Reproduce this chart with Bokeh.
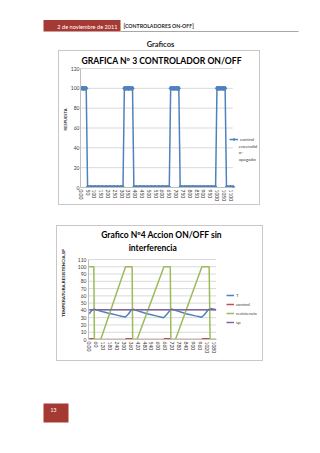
from bokeh.plotting import figure
from bokeh.models import (Range1d, Legend, LegendItem, FixedTicker, Plot,
                          ColumnDataSource, Quad, Segment, Text)
from bokeh.layouts import column
from bokeh.embed import file_html
from bokeh.resources import INLINE
from bokeh.core.properties import value

FONT = "Lato"
RED = "#a53a35"
GRID = "#d9d9d9"
AXIS = "#bfbfbf"
TXT = "#404040"

# ---------------- page texts ----------------
header_date = "2 de noviembre de 2011"
header_title = "[CONTROLADORES ON-OFF]"
section_title = "Graficos"
page_number = "13"

# ---------------- chart 1 data ----------------
c1_title = "GRAFICA Nº 3 CONTROLADOR ON/OFF"
c1_ylabel = "RESPUESTA"
c1_legend = ["control", "encendid", "o-", "apagado"]
c1_t = list(range(0, 1130, 10))
c1_v = [
    100, 100, 100, 100, 100,
    0, 0, 0, 0, 0, 0, 0, 0, 0, 0, 0, 0, 0, 0, 0, 0, 0, 0, 0, 0, 0, 0, 0, 0, 0, 0, 0,
    100, 100, 100, 100, 100, 100, 100,
    0, 0, 0, 0, 0, 0, 0, 0, 0, 0, 0, 0, 0, 0, 0, 0, 0, 0, 0, 0, 0, 0, 0, 0, 0, 0, 0,
    100, 100, 100, 100, 100, 100, 100,
    0, 0, 0, 0, 0, 0, 0, 0, 0, 0, 0, 0, 0, 0, 0, 0, 0, 0, 0, 0, 0, 0, 0, 0, 0, 0, 0,
    100, 100, 100, 100, 100, 100, 100,
    0, 0, 0, 0, 0, 0,
]
c1_xticks = [0, 50, 100, 150, 200, 250, 300, 350, 400, 450, 500, 550,
             600, 650, 700, 750, 800, 850, 900, 950, 1000, 1050, 1100]
c1_yticks = [0, 20, 40, 60, 80, 100, 120]

# ---------------- chart 2 data ----------------
c2_title_1 = "Grafico Nº4 Accion ON/OFF sin"
c2_title_2 = "interferencia"
c2_ylabel = "TEMPERATURA,RESISTENCIA,SP"
c2_xticks = [0, 60, 120, 180, 240, 300, 360, 420, 480, 540, 600, 660,
             720, 780, 840, 900, 960, 1020, 1080]
c2_yticks = [0, 10, 20, 30, 40, 50, 60, 70, 80, 90, 100, 110]

T_t = [0, 20, 40, 80, 120, 160, 200, 240, 280, 314, 340, 360, 375,
       420, 460, 500, 540, 580, 620, 645, 670, 695, 712,
       760, 800, 840, 880, 920, 960, 975, 1000, 1025, 1045, 1075, 1100]
T_v = [35.5, 39.5, 42, 40, 38.2, 36.5, 35, 33.5, 32, 31, 35, 39.5, 42,
       39.5, 37.5, 35.5, 34, 32.5, 31, 30, 34, 39, 42,
       39.5, 37.5, 35.5, 34, 32.5, 31.2, 30.5, 34.5, 39.5, 42.5, 42, 41]

ctrl_t = [0, 40, 45, 315, 320, 372, 377, 648, 653, 703, 708, 977, 982, 1040, 1048, 1100]
ctrl_v = [1, 1, 0, 0, 1, 1, 0, 0, 1, 1, 0, 0, 1, 1, 0, 0]

res_t = [0, 40, 45, 100, 315, 372, 377, 415, 648, 703, 708, 748, 977, 1040, 1048, 1100]
res_v = [100, 100, 0, 0, 100, 100, 0, 0, 100, 100, 0, 0, 100, 100, 0, 0]

sp_t = [0, 1100]
sp_v = [41, 41]


def no_frame_align(p):
    if "frame_align" in p.properties():
        p.frame_align = False


def page_plot(h, y0, y1):
    p = Plot(width=320, height=h, x_range=Range1d(0, 320), y_range=Range1d(y1, y0),
             output_backend="svg", toolbar_location=None, min_border=0,
             outline_line_color=None, title=None,
             background_fill_color="white", border_fill_color="white")
    no_frame_align(p)
    return p


def add_text(p, x, y, text, align, color, size, style="normal"):
    src = ColumnDataSource(dict(x=[x], y=[y], text=[text]))
    p.add_glyph(src, Text(x="x", y="y", text="text", text_align=align, text_baseline="middle",
                          text_color=color, text_font=value(FONT), text_font_size=size,
                          text_font_style=style))


def add_box(p, l, r, t, b, color):
    src = ColumnDataSource(dict(l=[l], r=[r], t=[t], b=[b]))
    p.add_glyph(src, Quad(left="l", right="r", top="t", bottom="b", fill_color=color, line_color=None))


# ---------------- header ----------------
ph = page_plot(50, 0, 50)
add_box(ph, 43, 120, 19.5, 31, RED)
ph.add_glyph(ColumnDataSource(dict(x0=[120], x1=[298], y=[31])),
             Segment(x0="x0", y0="y", x1="x1", y1="y", line_color="#a6a6a6", line_width=1))
add_text(ph, 117, 25.5, header_date, "right", "white", "5.6px")
add_text(ph, 123, 25.5, header_title, "left", "#262626", "5.2px", "bold")
add_text(ph, 160, 43.5, section_title, "center", "#262626", "7.5px", "bold")


class Chart:
    """figure whose frame spans the box right/top of the axes;
    dx/dy turn page pixels into data units (for titles and legend texts)."""

    def __init__(self, width, height, left, bottom, plot_left_px, plot_bottom_px, x0, sx, sy):
        self.plot_left_px, self.plot_bottom_px = plot_left_px, plot_bottom_px
        self.x0, self.sx, self.sy = x0, sx, sy
        fw = width - left
        fh = height - bottom
        self.p = figure(width=width, height=height,
                        x_range=Range1d(x0, x0 + fw / sx), y_range=Range1d(0, fh / sy),
                        output_backend="svg", toolbar_location=None, title=None,
                        min_border_left=left, min_border_right=0, min_border_top=0,
                        min_border_bottom=bottom)
        no_frame_align(self.p)

    def dx(self, px):
        return self.x0 + (px - self.plot_left_px) / self.sx

    def dy(self, py):
        return (self.plot_bottom_px - py) / self.sy


def style_axes(c, xticks, yticks, ylabel, fs, lab_fs, lab_standoff, tick_standoff, x_hi_px):
    p = c.p
    x_lo, x_hi = c.x0, c.dx(x_hi_px)
    p.xaxis.ticker = FixedTicker(ticks=xticks)
    p.yaxis.ticker = FixedTicker(ticks=yticks)
    p.grid.visible = False
    p.xaxis.bounds = (x_lo, x_hi)
    p.yaxis.bounds = (yticks[0], yticks[-1])
    p.xaxis.major_label_overrides = {0: "0.00"}
    p.xaxis.major_label_orientation = "vertical"
    for ax in (p.xaxis, p.yaxis):
        ax.major_tick_line_color = None
        ax.minor_tick_line_color = None
        ax.major_tick_out = 0
        ax.major_tick_in = 0
        ax.axis_line_color = AXIS
        ax.major_label_text_font = FONT
        ax.major_label_text_font_size = fs
        ax.major_label_text_color = TXT
    p.xaxis.major_label_standoff = 2
    p.yaxis.major_label_standoff = tick_standoff
    p.yaxis.axis_label = ylabel
    p.yaxis.axis_label_text_font = FONT
    p.yaxis.axis_label_text_font_size = lab_fs
    p.yaxis.axis_label_text_font_style = "bold"
    p.yaxis.axis_label_text_color = "#262626"
    p.yaxis.axis_label_standoff = lab_standoff
    p.outline_line_color = None
    n = len(yticks)
    p.segment(x0=[x_lo] * n, y0=yticks, x1=[x_hi] * n, y1=yticks,
              line_color=GRID, line_width=1, level="underlay")


def chart_text(c, xs_px, ys_px, texts, size, align, style="normal", color="#000000"):
    c.p.text(x=[c.dx(v) for v in xs_px], y=[c.dy(v) for v in ys_px], text=texts,
             text_font=value(FONT), text_font_size=size, text_font_style=style,
             text_color=color, text_align=align, text_baseline="middle")


# ---------------- chart 1 (box 59..260 x 51..206 on the page) ----------------
c1 = Chart(202, 155, 19, 19, 78, 187, -2, 156 / 1133, 119 / 120)
p1 = c1.p
style_axes(c1, c1_xticks, c1_yticks, c1_ylabel, "5px", "4px", 0, 1, 232)
chart_text(c1, [160], [60], [c1_title], "8.6px", "center", "bold")
r1 = p1.line(c1_t, c1_v, line_color="#4f81bd", line_width=1.5)
r1m = p1.scatter(c1_t, c1_v, marker="diamond", size=4.5, fill_color="#4f81bd", line_color="#4f81bd")
leg1 = Legend(items=[LegendItem(label=c1_legend[0], renderers=[r1, r1m])],
              location=(149, 45), border_line_color=None, background_fill_alpha=0,
              padding=0, margin=0, label_text_font=FONT, label_text_font_size="4.6px",
              label_text_color=TXT, glyph_width=9, glyph_height=6, label_height=6,
              label_standoff=2)
p1.add_layout(leg1)
chart_text(c1, [238, 238, 238], [145.2, 151.7, 158.2], c1_legend[1:], "4.6px", "left", color=TXT)
p1.styles = {"border": "1px solid #c8c8c8"}
p1.margin = (0, 0, 0, 58)

# ---------------- chart 2 (box 57..263 x 228..363 on the page) ----------------
c2 = Chart(207, 136, 29, 23, 86, 341, -6, 7 / 60, 80 / 110)
p2 = c2.p
style_axes(c2, c2_xticks, c2_yticks, c2_ylabel, "5px", "4.5px", 9, 2, 215)
chart_text(c2, [160, 151], [236, 249], [c2_title_1, c2_title_2], "8.5px", "center", "bold")
rT = p2.line(T_t, T_v, line_color="#4f81bd", line_width=1.5)
rC = p2.line(ctrl_t, ctrl_v, line_color="#c0504d", line_width=1.5)
rR = p2.line(res_t, res_v, line_color="#9bbb59", line_width=1.5)
rS = p2.line(sp_t, sp_v, line_color="#8064a2", line_width=1.5)
leg2 = Legend(items=[LegendItem(label="T", renderers=[rT]),
                     LegendItem(label="control", renderers=[rC]),
                     LegendItem(label="resistencia", renderers=[rR]),
                     LegendItem(label="sp", renderers=[rS])],
              location=(138, 14), border_line_color=None, background_fill_alpha=0,
              padding=0, margin=0, spacing=3,
              label_text_font=FONT, label_text_font_size="4.5px", label_text_color=TXT,
              glyph_width=8, glyph_height=6, label_height=6, label_standoff=2)
p2.add_layout(leg2)
p2.styles = {"border": "1px solid #c8c8c8"}
p2.margin = (20, 0, 0, 56)

# ---------------- footer ----------------
pf = page_plot(88, 365, 453)
add_box(pf, 43, 68, 407, 426, RED)
add_text(pf, 53, 413, page_number, "center", "white", "5px")

layout = column(ph, p1, p2, pf, spacing=0)
open("out.html", "w").write(file_html(layout, INLINE))
